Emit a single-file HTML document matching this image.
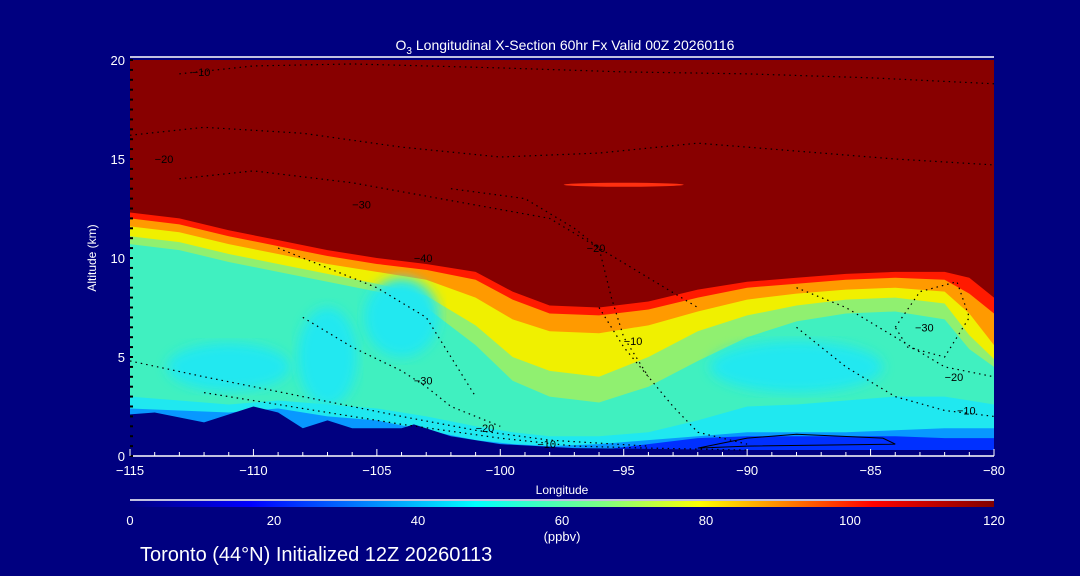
<!DOCTYPE html>
<html><head><meta charset="utf-8"><style>
body{margin:0;background:#000080;}
svg{display:block;font-family:"Liberation Sans",sans-serif;}
</style></head><body>
<svg id="c" width="1080" height="576">
<rect width="1080" height="576" fill="#000080"/>
<defs>
<linearGradient id="cb" x1="0" x2="1" y1="0" y2="0">
<stop offset="0" stop-color="#000080"/><stop offset="0.14" stop-color="#0000ff"/>
<stop offset="0.4" stop-color="#00ffff"/><stop offset="0.55" stop-color="#80ff80"/>
<stop offset="0.66" stop-color="#ffff00"/><stop offset="0.86" stop-color="#ff0000"/>
<stop offset="1" stop-color="#800000"/></linearGradient>
<clipPath id="pc"><rect x="130" y="60" width="864" height="396"/></clipPath>
<filter id="bl"><feGaussianBlur stdDeviation="6"/></filter>
</defs>
<g id="plot" clip-path="url(#pc)"></g>
<g id="axes"></g>
<text x="565" y="50" fill="#fff" font-size="14" text-anchor="middle">O<tspan font-size="10" dy="4">3</tspan><tspan dy="-4"> Longitudinal X-Section 60hr  Fx Valid 00Z 20260116</tspan></text>
<text x="562" y="494" fill="#fff" font-size="12" text-anchor="middle">Longitude</text>
<text transform="translate(96,258) rotate(-90)" fill="#fff" font-size="12" text-anchor="middle">Altitude (km)</text>
<line x1="130" x2="994" y1="500" y2="500" stroke="#fff" stroke-width="1.5"/>
<rect x="130" y="501" width="864" height="6" fill="url(#cb)"/>
<g id="cbl"></g>
<text x="562" y="541" fill="#fff" font-size="13" text-anchor="middle">(ppbv)</text>
<text x="140" y="561" fill="#fff" font-size="20">Toronto (44°N) Initialized 12Z 20260113</text>
</svg>
<script>
const lons=[-115,-113,-111,-109,-107,-105,-103,-101,-99.5,-98,-96,-94,-92,-90,-88,-86,-84,-82,-81,-80];
const hTop=[12.3,12.0,11.4,10.9,10.4,10.0,9.7,9.3,8.3,7.6,7.5,7.8,8.4,8.8,9.0,9.2,9.3,9.3,9.0,8.0];
const h100=[12.0,11.7,11.1,10.6,10.1,9.7,9.4,8.9,7.9,7.2,7.1,7.4,8.0,8.5,8.7,8.9,9.0,8.9,8.2,7.2];
const h80=[11.6,11.3,10.7,10.2,9.7,9.3,8.9,8.0,6.9,6.3,6.2,6.6,7.3,7.9,8.2,8.4,8.5,8.3,7.2,5.6];
const h65=[11.1,10.8,10.2,9.7,9.2,8.7,8.1,6.6,5.0,4.3,4.0,5.0,6.3,7.1,7.6,7.9,8.0,7.7,6.1,4.9];
const h50=[10.7,10.4,9.8,9.3,8.8,8.3,7.5,5.6,3.8,3.0,2.7,3.5,4.8,6.0,6.8,7.2,7.3,6.9,5.4,4.5];
const h40=[3.0,2.8,2.6,2.8,2.6,2.4,2.0,1.5,1.2,1.0,1.0,1.2,1.8,2.5,2.6,2.8,3.0,3.0,2.8,2.6];
const h25=[2.4,2.3,2.2,2.4,2.0,1.8,1.3,0.8,0.6,0.5,0.6,0.8,1.0,1.2,1.2,1.2,1.3,1.4,1.4,1.4];
const h15=[0,0,0,0,0,0,0,0,0,0,0.3,0.6,0.9,1.0,1.0,1.0,1.0,0.9,0.9,0.9];
const terrLon=[-115,-114,-112,-110,-109,-108,-107,-106,-104,-103.5,-102,-100,-97,-90,-80];
const terrAlt=[2.1,2.2,1.7,2.5,2.2,1.4,1.8,1.4,1.4,1.6,1.0,0.6,0.4,0.3,0.3];
const cyanLon=[-104,-88,-111,-107];
const cyanAlt=[7.0,4.5,4.5,5.0];
const cyanRx=[1.5,3.5,2.5,1.2];
const cyanRy=[2.0,1.3,1.2,2.5];
const xTicks=[-115,-110,-105,-100,-95,-90,-85,-80];
const yTicks=[0,5,10,15,20];
const cbTicks=[0,20,40,60,80,100,120];
const contours=[
 {lon:[-113,-110,-106,-100,-95,-90,-85,-80],alt:[19.3,19.7,19.8,19.6,19.4,19.3,19.1,18.8],lab:"-10",ll:-112.5,la:19.2},
 {lon:[-115,-112,-108,-104,-100,-96,-92,-88,-84,-80],alt:[16.2,16.6,16.3,15.6,15.1,15.3,15.8,15.4,15.0,14.7],lab:"-20",ll:-114,la:14.8},
 {lon:[-113,-110,-106,-102,-98,-96,-94,-92],alt:[14.0,14.4,13.8,12.9,12.0,10.5,9.0,7.5],lab:"-30",ll:-106,la:12.5},
 {lon:[-102,-99,-97,-96,-95.5,-95,-94],alt:[13.5,13.0,11.5,10.5,8,6,4.0],lab:"-20",ll:-96.5,la:10.3},
 {lon:[-96,-95,-94,-93,-92,-90],alt:[7.5,5.5,4.0,2.5,1.2,0.6],lab:"-10",ll:-95,la:5.6},
 {lon:[-109,-107,-105,-103,-102,-101],alt:[10.5,9.5,8.5,7.0,5.0,3.0],lab:"-40",ll:-103.5,la:9.8},
 {lon:[-108,-106,-104,-103,-102,-100],alt:[7.0,5.5,4.3,3.5,2.5,1.5],lab:"-30",ll:-103.5,la:3.6},
 {lon:[-115,-112,-108,-104,-101,-98,-94],alt:[4.8,4.0,3.0,2.0,1.3,0.8,0.5],lab:"-20",ll:-101,la:1.2},
 {lon:[-112,-108,-104,-100,-97,-94,-90],alt:[3.2,2.4,1.6,0.9,0.5,0.4,0.3],lab:"-10",ll:-98.5,la:0.4},
 {lon:[-88,-86,-84,-82,-80],alt:[8.5,7.5,6.0,4.5,4.0],lab:"-20",ll:-82,la:3.8},
 {lon:[-88,-86,-84,-82,-80],alt:[6.5,4.5,3.0,2.3,2.0],lab:"-10",ll:-81.5,la:2.1},
 {lon:[-84,-83,-81.5,-81,-82,-83.5,-84],alt:[6.5,8.3,8.8,7.0,5.0,5.5,6.5],lab:"-30",ll:-83.2,la:6.3}
];
const NS="http://www.w3.org/2000/svg";
const X=l=>130+(l+115)*(864/35);
const Y=a=>456-a*19.8;
function mk(t,at,parent){const e=document.createElementNS(NS,t);for(const k in at)e.setAttribute(k,at[k]);parent.appendChild(e);return e;}
const plot=document.getElementById('plot');
const ax=document.getElementById('axes');
const bg=mk('rect',{x:130,y:60,width:864,height:396,fill:'#880000'},plot);


function band(h,col,name){
 let d='M'+X(-115)+','+Y(0);
 lons.forEach((l,i)=>{d+=' L'+X(l)+','+Y(h[i]);});
 d+=' L'+X(-80)+','+Y(0)+'Z';
 const p=mk('path',{d:d,fill:col},plot);
 
 
}
band(hTop,'#ff1a00','band-100-ppbv');
band(h100,'#ff9a00','band-90-ppbv');
band(h80,'#f0f000','band-80-ppbv');
band(h65,'#90f070','band-65-ppbv');
band(h50,'#40f0c0','band-50-ppbv');
cyanLon.forEach((l,i)=>{
 const e=mk('ellipse',{cx:X(l),cy:Y(cyanAlt[i]),rx:cyanRx[i]*24.7,ry:cyanRy[i]*19.8,fill:'#20e8f0',filter:'url(#bl)'},plot);
 
 
});
band(h40,'#20e8f0','band-40-ppbv');
band(h25,'#0898ff','band-25-ppbv');
band(h15,'#0030ff','band-15-ppbv');
const streak=mk('ellipse',{cx:X(-95),cy:Y(13.7),rx:60,ry:2,fill:'#ff3010'},plot);


let td='M'+X(-115)+','+Y(0);
terrLon.forEach((l,i)=>{td+=' L'+X(l)+','+Y(terrAlt[i]);});
td+=' L'+X(-80)+','+Y(0)+'Z';
const terr=mk('path',{d:td,fill:'#000080'},plot);


contours.forEach((c,k)=>{
 const pts=c.lon.map((l,i)=>X(l)+','+Y(c.alt[i])).join(' ');
 const pl=mk('polyline',{points:pts,fill:'none',stroke:'#000','stroke-width':1.2,'stroke-dasharray':'1.5 4'},plot);
 
 
 const t=mk('text',{x:X(c.ll),y:Y(c.la),'font-size':11,fill:'#000'},plot);
 t.textContent=c.lab.replace('-','−');
 
 
});
const sol=mk('path',{d:'M'+X(-92)+','+Y(0.4)+' L'+X(-90)+','+Y(0.9)+' L'+X(-88)+','+Y(1.1)+' L'+X(-84.5)+','+Y(0.9)+' L'+X(-84)+','+Y(0.6)+' L'+X(-90)+','+Y(0.5)+'Z',fill:'none',stroke:'#000','stroke-width':1},plot);


const topLine=mk('line',{x1:130,x2:994,y1:57,y2:57,stroke:'#fff','stroke-width':1.5},ax);


const botLine=mk('line',{x1:130,x2:994,y1:456,y2:456,stroke:'#fff','stroke-width':1.5},ax);


for(let a=0;a<=20;a+=0.5){
 const tk=mk('line',{x1:130,x2:133,y1:Y(a),y2:Y(a),stroke:'#000','stroke-width':2},ax);
 
 
}
for(let l=-115;l<=-80;l++){
 const tk=mk('line',{x1:X(l),x2:X(l),y1:456,y2:l%5===0?449:452,stroke:'#fff'},ax);
 
 
}
xTicks.forEach(v=>{
 const t=mk('text',{x:X(v),y:475,fill:'#fff','font-size':13,'text-anchor':'middle'},ax);
 t.textContent=String(v).replace('-','−');
 
 
});
yTicks.forEach(v=>{
 const t=mk('text',{x:125,y:Y(v)+5,fill:'#fff','font-size':13,'text-anchor':'end'},ax);
 t.textContent=v;
 
 
});
cbTicks.forEach(v=>{
 const t=mk('text',{x:130+v/120*864,y:525,fill:'#fff','font-size':13,'text-anchor':'middle'},document.getElementById('cbl'));
 t.textContent=v;
 
 
});
</script>
</body></html>
